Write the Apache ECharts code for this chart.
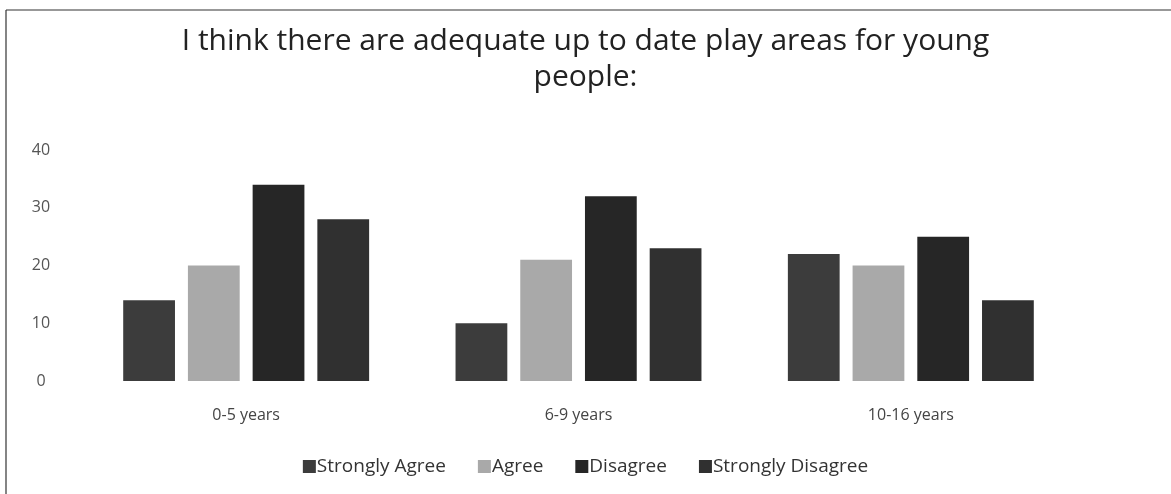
<!DOCTYPE html>
<html>
<head>
<meta charset="utf-8">
<script src="https://cdn.jsdelivr.net/npm/echarts@6/dist/echarts.min.js"></script>
<style>html,body{margin:0;padding:0;background:#fff;}#c{width:1171px;height:494px;}</style>
</head>
<body>
<div id="c"></div>
<script>
const categories = ['0-5 years', '6-9 years', '10-16 years'];
const seriesNames = ['Strongly Agree', 'Agree', 'Disagree', 'Strongly Disagree'];
const stronglyAgree = [14, 10, 22];
const agree = [20, 21, 20];
const disagree = [34, 32, 25];
const stronglyDisagree = [28, 23, 14];
const yTicks = [0, 10, 20, 30, 40];

const colors = ['#3c3c3c', '#a9a9a9', '#262626', '#303030'];
const values = [stronglyAgree, agree, disagree, stronglyDisagree];
const font = "'Open Sans', 'Liberation Sans', sans-serif";

const chart = echarts.init(document.getElementById('c'));
chart.setOption({
  animation: false,
  backgroundColor: '#fff',
  title: {
    text: 'I think there are adequate up to date play areas for young\npeople:',
    left: 'center', top: 18,
    textStyle: { fontFamily: font, fontSize: 30, fontWeight: 'normal', color: '#222', lineHeight: 36 }
  },
  legend: {
    bottom: 13, left: 'center', itemWidth: 13, itemHeight: 13, itemGap: 32,
    icon: 'rect',
    textStyle: { fontFamily: font, fontSize: 19, color: '#333', padding: [0, 0, 0, -4] },
    data: seriesNames
  },
  grid: { left: 80, right: 94, top: 150, bottom: 113 },
  xAxis: {
    type: 'category', data: categories,
    axisLine: { show: false }, axisTick: { show: false },
    axisLabel: { fontFamily: font, fontSize: 16, color: '#444', margin: 26 }
  },
  yAxis: {
    type: 'value', min: yTicks[0], max: yTicks[yTicks.length - 1], interval: 10,
    splitLine: { show: false }, axisLine: { show: false }, axisTick: { show: false },
    axisLabel: { fontFamily: font, fontSize: 16, color: '#555', margin: 39, align: 'center' }
  },
  series: seriesNames.map((n, i) => ({
    name: n, type: 'bar', data: values[i],
    barGap: '25%', barCategoryGap: '26%',
    itemStyle: { color: colors[i] }
  })),
  graphic: [
    { type: 'line', shape: { x1: 6, y1: 10, x2: 1171, y2: 10 }, style: { stroke: '#333', lineWidth: 1.2 } },
    { type: 'line', shape: { x1: 6, y1: 10, x2: 6, y2: 494 }, style: { stroke: '#333', lineWidth: 1.2 } }
  ]
});
</script>
</body>
</html>
